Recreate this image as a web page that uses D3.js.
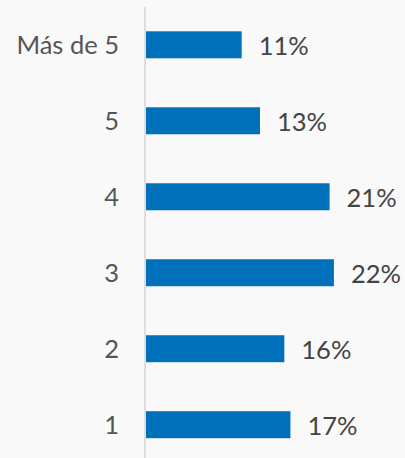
<!DOCTYPE html>
<html>
<head>
<meta charset="utf-8">
<script src="https://cdn.jsdelivr.net/npm/d3@7"></script>
<style>
  html, body { margin: 0; padding: 0; background: #f9f9f9; }
  svg { display: block; font-family: Lato, "Open Sans", sans-serif; }
</style>
</head>
<body>
<svg></svg>
<script>
	var categories = ["Más de 5", "5", "4", "3", "2", "1"];
	var values = [11.0, 13.1, 21.1, 21.6, 15.9, 16.6];

	var width = 405,
		height = 458;

	var axisX = 145;

	var svg = d3.select("svg")
		.attr("width", width)
		.attr("height", height);

	svg.append("rect")
		.attr("width", width)
		.attr("height", height)
		.attr("fill", "#f9f9f9");

	var x = d3.scaleLinear().domain([0, 22]).range([axisX + 1, axisX + 1 + 22 * 8.7]);
	var y = d3.scaleBand().domain(categories).range([7, 462.5]).paddingInner(0.645).paddingOuter(0.32);

	var data = categories.map(function(c, i) { return {cat: c, val: values[i]}; });

	svg.append("line")
		.attr("x1", axisX).attr("x2", axisX)
		.attr("y1", 7).attr("y2", height)
		.attr("stroke", "#d4d4d4")
		.attr("stroke-width", 1.5);

	svg.selectAll(".bar")
		.data(data)
		.enter()
		.append("rect")
		.attr("class", "bar")
		.attr("x", x(0))
		.attr("y", function(d) { return y(d.cat); })
		.attr("width", function(d) { return x(d.val) - x(0); })
		.attr("height", y.bandwidth())
		.attr("fill", "#0070ba");

	svg.selectAll(".cat")
		.data(data)
		.enter()
		.append("text")
		.attr("class", "cat")
		.attr("x", 119)
		.attr("y", function(d) { return y(d.cat) + y.bandwidth() / 2; })
		.attr("dy", "0.36em")
		.attr("text-anchor", "end")
		.attr("font-size", 25.5)
		.attr("fill", "#555")
		.text(function(d) { return d.cat; });

	svg.selectAll(".val")
		.data(data)
		.enter()
		.append("text")
		.attr("class", "val")
		.attr("x", function(d) { return x(d.val) + 17; })
		.attr("y", function(d) { return y(d.cat) + y.bandwidth() / 2; })
		.attr("dy", "0.4em")
		.attr("font-size", 25.5)
		.attr("fill", "#444")
		.text(function(d) { return Math.round(d.val) + "%"; });
</script>
</body>
</html>
